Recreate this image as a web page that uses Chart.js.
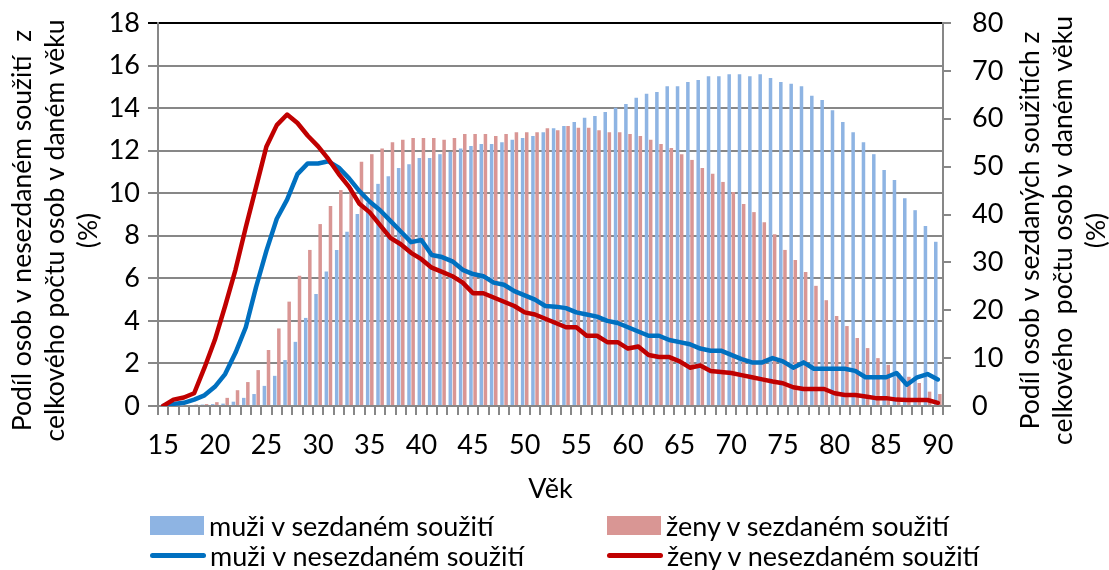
<!DOCTYPE html>
<html>
<head>
<meta charset="utf-8">
<script src="https://cdn.jsdelivr.net/npm/chart.js@4/dist/chart.umd.min.js"></script>
<style>
  body { margin: 0; background: #fff; }
  #wrap { position: relative; width: 1109px; height: 570px; font-family: Lato, sans-serif; }
  #legend { position: absolute; left: 150px; top: 510px; display: grid; grid-template-columns: 457px auto; grid-auto-rows: 30px; }
  #legend .item { display: flex; align-items: center; font-size: 27px; color: #000; white-space: pre; }
  #legend .box { width: 54px; height: 19px; margin-right: 5px; }
  #legend .line { width: 56px; height: 5px; border-radius: 3px; margin-right: 4px; }
</style>
</head>
<body>
<div id="wrap">
  <canvas id="chart" width="1109" height="570"></canvas>
  <div id="legend"></div>
</div>
<script>
const ages = [15, 16, 17, 18, 19, 20, 21, 22, 23, 24, 25, 26, 27, 28, 29, 30, 31, 32, 33, 34,
  35, 36, 37, 38, 39, 40, 41, 42, 43, 44, 45, 46, 47, 48, 49, 50, 51, 52, 53, 54,
  55, 56, 57, 58, 59, 60, 61, 62, 63, 64, 65, 66, 67, 68, 69, 70, 71, 72, 73, 74,
  75, 76, 77, 78, 79, 80, 81, 82, 83, 84, 85, 86, 87, 88, 89, 90];

// married, % (right axis)
const menMarried = [0, 0, 0.1, 0.2, 0.3, 0.4, 0.5, 0.9, 1.7, 2.5, 4.2, 6.3, 9.6, 13.4, 18.4, 23.4, 28.1, 32.6, 36.4, 40.1,
  42.5, 46.4, 48.0, 49.7, 50.5, 51.8, 51.8, 52.6, 53.1, 53.8, 54.3, 54.7, 54.7, 55.1, 55.6, 56.0, 56.4, 57.2, 58.0, 58.5,
  59.3, 60.2, 60.6, 61.4, 62.3, 63.1, 64.4, 65.2, 65.6, 66.8, 66.8, 67.7, 68.1, 68.9, 68.9, 69.3, 69.3, 68.9, 69.3, 68.5,
  67.7, 67.3, 66.8, 64.8, 63.9, 61.8, 59.3, 57.2, 55.1, 52.6, 49.3, 47.2, 43.4, 40.9, 37.6, 34.3];
const womenMarried = [0, 0.1, 0.2, 0.3, 0.4, 0.8, 1.7, 3.3, 5.0, 7.5, 11.7, 16.2, 21.8, 27.2, 32.6, 38.0, 41.8, 45.1, 45.5, 51.0,
  52.6, 53.8, 55.1, 55.6, 56.0, 56.0, 56.0, 55.6, 56.0, 56.8, 56.8, 56.8, 56.4, 56.8, 57.2, 57.2, 57.2, 58.0, 57.6, 58.5,
  58.1, 58.1, 57.6, 57.2, 57.2, 56.8, 56.4, 55.6, 54.7, 53.9, 52.6, 51.4, 49.7, 48.5, 46.8, 44.7, 42.2, 40.5, 38.4, 35.9,
  32.6, 30.5, 28.0, 25.1, 22.1, 18.8, 16.7, 14.2, 12.1, 10.0, 8.6, 6.9, 6.1, 4.8, 3.0, 2.5];

// unmarried cohabitation, % (left axis)
const menCohab = [0, 0.1, 0.15, 0.3, 0.5, 0.9, 1.5, 2.5, 3.7, 5.6, 7.3, 8.8, 9.7, 10.9, 11.4, 11.4, 11.5, 11.2, 10.7, 10.1,
  9.6, 9.2, 8.7, 8.2, 7.7, 7.8, 7.1, 7.0, 6.8, 6.4, 6.2, 6.1, 5.8, 5.7, 5.4, 5.2, 5.0, 4.7, 4.67, 4.6,
  4.4, 4.3, 4.2, 4.0, 3.9, 3.7, 3.5, 3.3, 3.3, 3.1, 3.0, 2.9, 2.7, 2.6, 2.6, 2.4, 2.2, 2.05, 2.05, 2.25,
  2.1, 1.8, 2.05, 1.75, 1.75, 1.75, 1.75, 1.65, 1.35, 1.35, 1.35, 1.55, 1.0, 1.35, 1.5, 1.25];
const womenCohab = [0, 0.3, 0.4, 0.6, 1.8, 3.1, 4.7, 6.4, 8.4, 10.3, 12.2, 13.2, 13.7, 13.3, 12.7, 12.2, 11.6, 10.9, 10.3, 9.5,
  9.1, 8.5, 7.9, 7.6, 7.2, 6.9, 6.5, 6.3, 6.1, 5.8, 5.3, 5.3, 5.1, 4.9, 4.7, 4.4, 4.3, 4.1, 3.9, 3.7,
  3.7, 3.3, 3.3, 3.0, 3.0, 2.7, 2.8, 2.4, 2.3, 2.3, 2.1, 1.8, 1.9, 1.65, 1.6, 1.55, 1.45, 1.35, 1.25, 1.15,
  1.07, 0.88, 0.8, 0.8, 0.8, 0.6, 0.52, 0.52, 0.45, 0.37, 0.37, 0.3, 0.28, 0.28, 0.28, 0.15];

const leftTitle = ["Podíl osob v nesezdaném soužití  z", "celkového počtu osob v daném věku", "(%)"];
const rightTitle = ["Podíl osob v sezdaných soužitích z", "celkového  počtu osob v daném věku", "(%)"];
const xTitle = "Věk";

const gridColor = "#878787";

Chart.defaults.font.family = "Lato";
Chart.defaults.font.size = 27;
Chart.defaults.color = "#000";

// rotated multi-line titles for both value axes (Excel reads them bottom to top)
const axisTitles = {
  id: "axisTitles",
  afterDraw(chart) {
    const ctx = chart.ctx;
    const area = chart.chartArea;
    const midY = (area.top + area.bottom) / 2 + 16;
    const drawLines = (lines, x) => {
      lines.forEach((text, i) => {
        ctx.save();
        ctx.translate(x + i * 33, midY);
        ctx.rotate(-Math.PI / 2);
        ctx.fillText(text, 0, 0);
        ctx.restore();
      });
    };
    ctx.save();
    ctx.font = "26.5px Lato";
    ctx.fillStyle = "#000";
    ctx.textAlign = "center";
    ctx.textBaseline = "middle";
    drawLines(leftTitle, chart.scales.y.left + 22);
    drawLines(rightTitle, chart.scales.y1.left + 87);
    ctx.restore();
  },
};

// fixed widths for the value axes, and no extra room above/below for their labels
function fixVertical(width) {
  return (scale) => {
    scale.width = width;
    scale.paddingTop = 0;
    scale.paddingBottom = 0;
  };
}

const chart = new Chart(document.getElementById("chart"), {
  type: "bar",
  data: {
    labels: ages,
    datasets: [
      { type: "bar", label: "muži v sezdaném soužití", data: menMarried, yAxisID: "y1",
        backgroundColor: "#8EB4E3", order: 3, barPercentage: 0.85, categoryPercentage: 0.8 },
      { type: "bar", label: "ženy v sezdaném soužití", data: womenMarried, yAxisID: "y1",
        backgroundColor: "#D99694", order: 3, barPercentage: 0.85, categoryPercentage: 0.8 },
      { type: "line", label: "muži v nesezdaném soužití", data: menCohab, yAxisID: "y",
        borderColor: "#0070C0", backgroundColor: "#0070C0", borderWidth: 4.5, pointRadius: 0,
        borderJoinStyle: "round", borderCapStyle: "round", order: 2 },
      { type: "line", label: "ženy v nesezdaném soužití", data: womenCohab, yAxisID: "y",
        borderColor: "#C00000", backgroundColor: "#C00000", borderWidth: 4.5, pointRadius: 0,
        borderJoinStyle: "round", borderCapStyle: "round", order: 1 },
    ],
  },
  options: {
    responsive: false,
    animation: false,
    layout: { padding: { top: 23, left: 0, right: 0, bottom: 0 } },
    plugins: { legend: { display: false }, tooltip: { enabled: false } },
    scales: {
      x: {
        offset: true,
        grid: { drawOnChartArea: false, offset: true, color: gridColor, lineWidth: 2, tickLength: 9 },
        border: { color: gridColor, width: 2 },
        ticks: {
          autoSkip: false,
          maxRotation: 0,
          padding: 14,
          callback: (value, index) => (ages[index] % 5 === 0 ? String(ages[index]) : ""),
        },
        title: { display: true, text: xTitle, padding: { top: 4, bottom: 65 } },
        afterFit(scale) { scale.height = 164; },
      },
      y: {
        position: "left",
        min: 0,
        max: 18,
        ticks: { stepSize: 2, padding: 8 },
        grid: {
          color: (c) => (c.tick && c.tick.value === 18 ? "#000" : gridColor),
          lineWidth: 2,
          tickLength: 10,
        },
        border: { color: gridColor, width: 2 },
        afterFit: fixVertical(158),
      },
      y1: {
        position: "right",
        min: 0,
        max: 80,
        ticks: { stepSize: 10, padding: 21 },
        grid: { drawOnChartArea: false, color: gridColor, lineWidth: 2, tickLength: 8 },
        border: { color: gridColor, width: 2 },
        afterFit: fixVertical(166),
      },
    },
  },
  plugins: [axisTitles],
});

// legend as html, two columns, built from the datasets
const legend = document.getElementById("legend");
chart.data.datasets.forEach((ds) => {
  const item = document.createElement("div");
  item.className = "item";
  const mark = document.createElement("span");
  mark.className = ds.type === "bar" ? "box" : "line";
  mark.style.background = ds.type === "bar" ? ds.backgroundColor : ds.borderColor;
  item.appendChild(mark);
  item.appendChild(document.createTextNode(ds.label));
  legend.appendChild(item);
});
</script>
</body>
</html>
